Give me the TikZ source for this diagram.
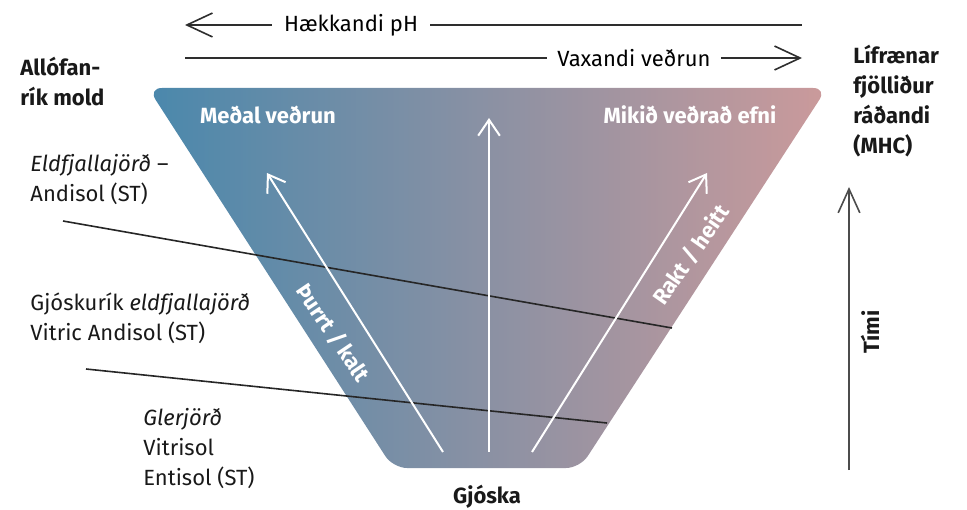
\documentclass[tikz,border=0pt]{standalone}
\usepackage{fontspec}
\setmainfont{Fira Sans}
\usetikzlibrary{arrows.meta,positioning}
\definecolor{askblue}{HTML}{4A88AC}
\definecolor{askgrey}{HTML}{8A8296}
\definecolor{askrose}{HTML}{CB9A9B}
\definecolor{inkgrey}{HTML}{2E2E2E}
\tikzset{
  % trekt
  trekt/.style={left color=askblue,middle color=askgrey,right color=askrose,
                rounded corners=7pt},
  hvit/.style={draw=white,line width=1pt,-{Straight Barb[length=2.8mm,width=3.8mm]}},
  skil/.style={draw=black!85,line width=0.8pt},
  inn/.style={font=\bfseries,text=white,inner sep=0pt},
  % texti
  lbl/.style={font=\fontsize{11}{15}\selectfont,align=left,inner sep=0pt,
              anchor=west,text=black!90},
  blbl/.style={lbl,font=\fontsize{11}{15}\selectfont\bfseries},
  % oervar
  topar/.style={draw=inkgrey,line width=0.8pt,-{Straight Barb[length=4.5mm,width=4.2mm]}},
  topline/.style={draw=inkgrey,line width=0.8pt},
  ptxt/.style={font=\fontsize{11}{13}\selectfont,inner ysep=0pt,inner xsep=6pt},
  timi/.style={draw=black!70,line width=0.8pt,-{Straight Barb[length=4.2mm,width=3.8mm]}},
}
\begin{document}
\begin{tikzpicture}[x=0.5pt,y=0.5pt]
\useasboundingbox (0,0) rectangle (967,509);
  \shade[trekt] (148,421) -- (827,421) -- (580,41) -- (393,41) -- cycle;
  % skil milli jarðvegsgerða
  \coordinate (s1a) at (63,288);  \coordinate (s1b) at (672,181);
  \coordinate (s2a) at (86,140);  \coordinate (s2b) at (607,86);
  \draw[skil] (s1a) -- (s1b);
  \draw[skil] (s2a) -- (s2b);
  % hvítar örvar
  \coordinate (lb) at (443,57); \coordinate (lt) at (267,336);
  \coordinate (mb) at (489,57); \coordinate (mt) at (489,391);
  \coordinate (rb) at (532,57); \coordinate (rt) at (707,336);
  \draw[hvit] (lb) -- (lt);
  \draw[hvit] (mb) -- (mt);
  \draw[hvit] (rb) -- (rt);
  \node[inn,font=\fontsize{11}{13}\selectfont\bfseries] (medal) at (268,394) {Meðal veðrun};
  \node[inn,font=\fontsize{11}{13}\selectfont\bfseries] (mikid) at (690,394) {Mikið veðrað efni};
  \node[inn,font=\fontsize{11}{13}\selectfont\bfseries,rotate=-56] (thurrt) at (333,176) {Þurrt / kalt};
  \node[inn,font=\fontsize{11}{13}\selectfont\bfseries,rotate=55] (rakt) at (691,254) {Rakt / heitt};
  % efst
  \node[ptxt] (ph) at (351,484) {Hækkandi pH};
  \coordinate (phL) at (185,484); \coordinate (phR) at (802,484);
  \draw[topar] (ph.west) -- (phL);
  \draw[topline] (ph.east) -- (phR);
  \node[ptxt,inner xsep=5pt] (vax) at (634,451) {Vaxandi veðrun};
  \coordinate (vaxL) at (185,451); \coordinate (vaxR) at (802,451);
  \draw[topline] (vaxL) -- (vax.west);
  \draw[topar] (vax.east) -- (vaxR);
  % textar
  \node[blbl] (allo) at (20,427) {Allófan-\\rík mold};
  \node[blbl] (lifr) at (853,408) {Lífrænar\\fjölliður\\ráðandi\\(MHC)};
  \node[lbl] (eldf) at (30,329) {\textit{Eldfjallajörð} –\\Andisol (ST)};
  \node[lbl] (gjosk) at (30,191) {Gjóskurík \textit{eldfjallajörð}\\Vitric Andisol (ST)};
  \node[lbl] (gler) at (143,60) {\textit{Glerjörð}\\Vitrisol\\Entisol (ST)};
  \node[blbl,anchor=center] (gjoska) at (487,12) {Gjóska};
  % tími
  \coordinate (tb) at (849,39); \coordinate (tt) at (849,322);
  \draw[timi] (tb) -- (tt);
  \node[blbl,anchor=center,rotate=90] (timilbl) at (870,177) {Tími};
\end{tikzpicture}
\end{document}
